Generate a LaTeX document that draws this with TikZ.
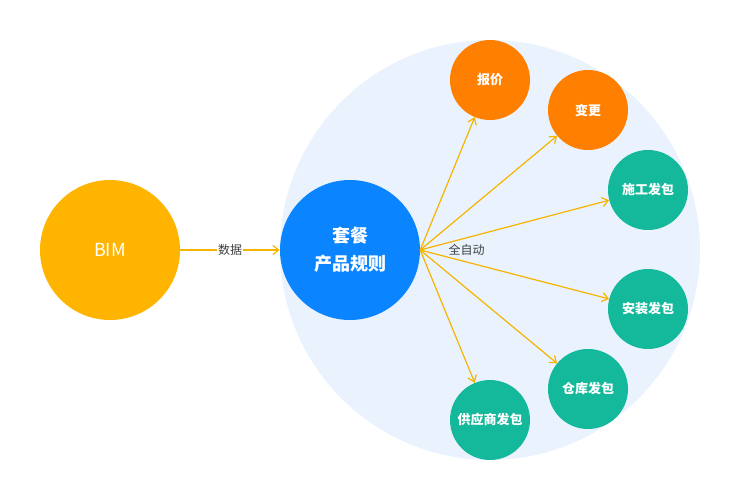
\documentclass[tikz,border=0pt]{standalone}
\usepackage{fontspec}
\setmainfont{Noto Sans CJK SC}
\usetikzlibrary{arrows.meta}
\definecolor{bgc}{HTML}{EAF3FD}
\definecolor{bimc}{HTML}{FFB400}
\definecolor{ctrc}{HTML}{0A84FF}
\definecolor{orc}{HTML}{FF7F00}
\definecolor{tlc}{HTML}{13B99A}
\definecolor{arc}{HTML}{F5B400}
\begin{document}
\begin{tikzpicture}[x=1pt,y=-1pt,
  big/.style={circle,minimum size=140pt,inner sep=0pt,text=white,font=\fontsize{18}{24}\selectfont},
  small/.style={circle,minimum size=80pt,inner sep=0pt,text=white,font=\bfseries\fontsize{13}{16}\selectfont},
  con/.style={draw=arc,line width=1.2pt,-{Straight Barb[length=6pt,width=9pt]}},
  lbl/.style={font=\fontsize{12}{14}\selectfont,text=black!75}]
\useasboundingbox (0,0) rectangle (740,500);
\fill[bgc] (490,250) circle (210);
\node[big,fill=bimc] (bim) at (110,250) {BIM};
\node[big,fill=ctrc,align=center,font=\bfseries\fontsize{18}{28}\selectfont] (c) at (350,250) {套餐\\产品规则};
\node[small,fill=orc] (a1) at (490,80) {报价};
\node[small,fill=orc] (a2) at (588,110) {变更};
\node[small,fill=tlc] (a3) at (648,190) {施工发包};
\node[small,fill=tlc] (a4) at (648,309) {安装发包};
\node[small,fill=tlc] (a5) at (588,389) {仓库发包};
\node[small,fill=tlc] (a6) at (490,420) {供应商发包};
\draw[con] (bim) -- node[lbl,fill=white,inner sep=1pt]{数据} (c);
\foreach \t in {a1,a2,a3,a4,a5,a6} \draw[con] (c.east) -- (\t);
\node[lbl,anchor=west] (au) at (445,250) {全自动};
\end{tikzpicture}
\end{document}
